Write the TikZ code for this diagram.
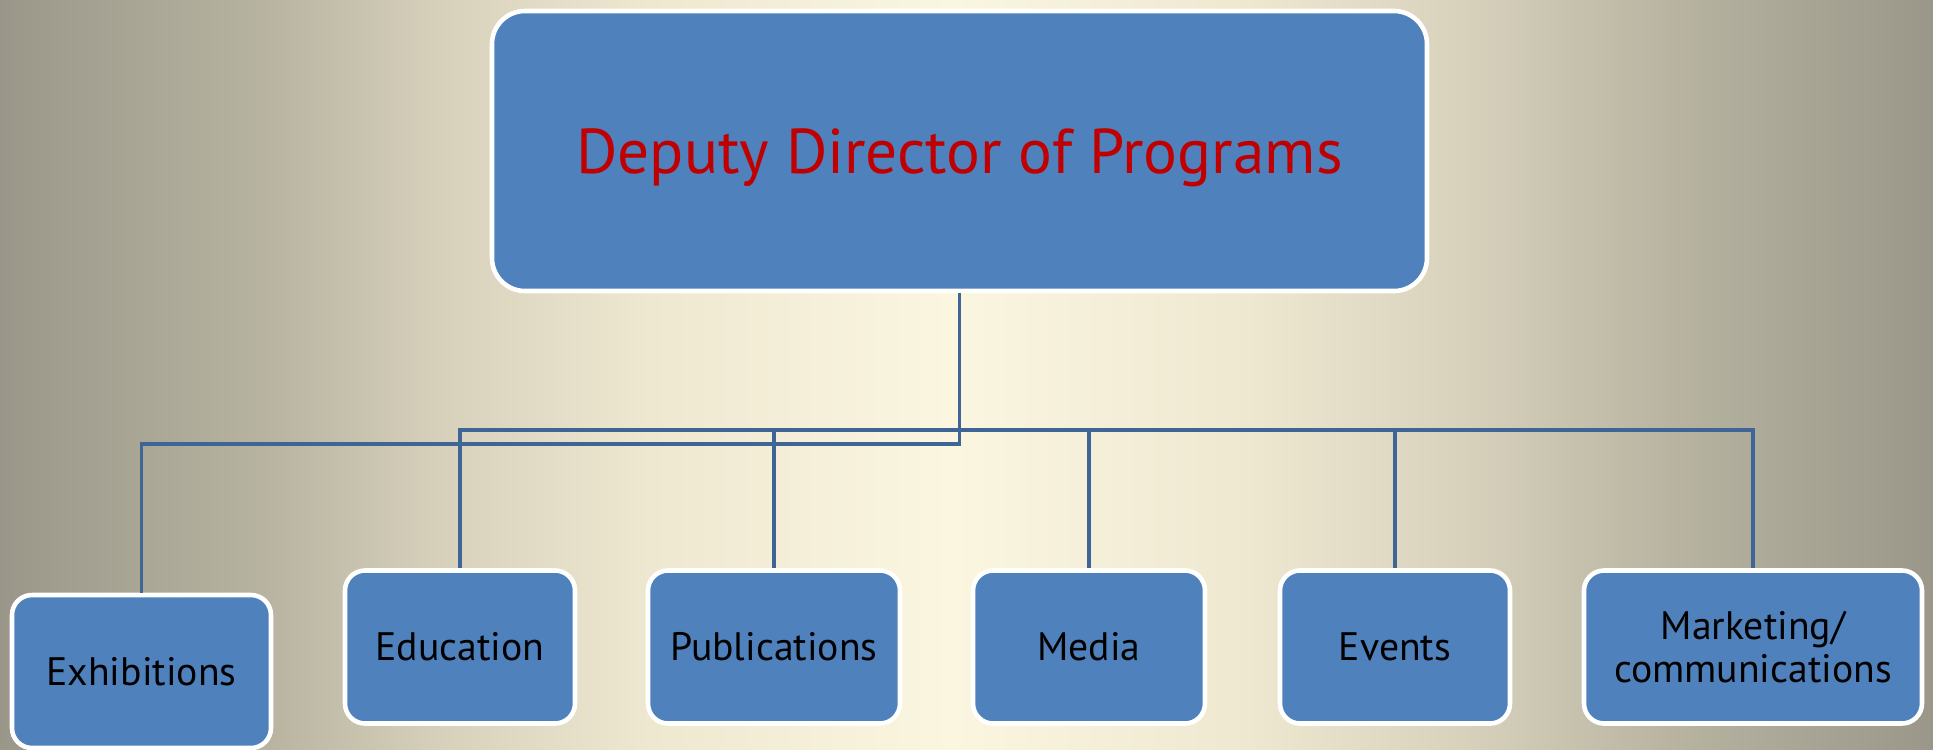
\documentclass[tikz,border=0pt]{standalone}
\usepackage{fontspec}
\setmainfont{PT Sans}
\definecolor{boxblue}{HTML}{4F81BD}
\definecolor{linkblue}{HTML}{3F6596}
\definecolor{titlered}{HTML}{C00000}
\definecolor{bgA}{HTML}{9A978A}
\definecolor{bgB}{HTML}{B8B4A1}
\definecolor{bgC}{HTML}{D8D2BD}
\definecolor{bgD}{HTML}{EEE8D1}
\definecolor{bgE}{HTML}{FBF6E0}
\pgfdeclarehorizontalshading{backdrop}{100bp}{color(0bp)=(bgA); color(25bp)=(bgA);
  color(32bp)=(bgB); color(36.6bp)=(bgC); color(41.8bp)=(bgD); color(49.6bp)=(bgE);
  color(57.3bp)=(bgD); color(62.8bp)=(bgC); color(68.2bp)=(bgB); color(75bp)=(bgA); color(100bp)=(bgA)}
\tikzset{
  unitbox/.style={draw=white, line width=1.3pt, fill=boxblue, rounded corners=0.2cm,
    minimum height=1.53cm, align=center, inner sep=2pt,
    font=\fontsize{11.3}{12.2}\selectfont},
  headbox/.style={unitbox, rounded corners=0.33cm, minimum width=9.35cm,
    minimum height=2.8cm, text=titlered, text depth=0pt, font=\fontsize{18}{20}\selectfont},
  link/.style={draw=linkblue, line width=0.9pt}
}
\begin{document}
\begin{tikzpicture}
    \useasboundingbox (0,0) rectangle (19.33,7.49);
    \clip (0,0) rectangle (19.33,7.49);
    \shade[shading=backdrop] (0,0) rectangle (19.33,7.49);

    \node[headbox] (dir) at (9.595,5.98) {Deputy Director of Programs};
    \node[unitbox, minimum width=2.59cm] (exh) at (1.415,0.775) {Exhibitions};
    \node[unitbox, minimum width=2.30cm] (edu) at (4.60,1.02) {Education};
    \node[unitbox, minimum width=2.52cm] (pub) at (7.74,1.02) {Publications};
    \node[unitbox, minimum width=2.32cm] (med) at (10.89,1.02) {Media};
    \node[unitbox, minimum width=2.30cm] (evt) at (13.95,1.02) {Events};
    \node[unitbox, minimum width=3.38cm] (mkt) at (17.53,1.02) {Marketing/\\communications};

    \coordinate (turn) at (0,3.05);
    \coordinate (bus) at (0,3.19);
    \draw[link] (dir.south) -- (dir.south |- turn) -| (exh.north);
    \draw[link] (edu.north) |- (mkt.north |- bus) -- (mkt.north);
    \foreach \unit in {pub,med,evt}
        \draw[link] (\unit.north) -- (\unit.north |- bus);
\end{tikzpicture}
\end{document}
